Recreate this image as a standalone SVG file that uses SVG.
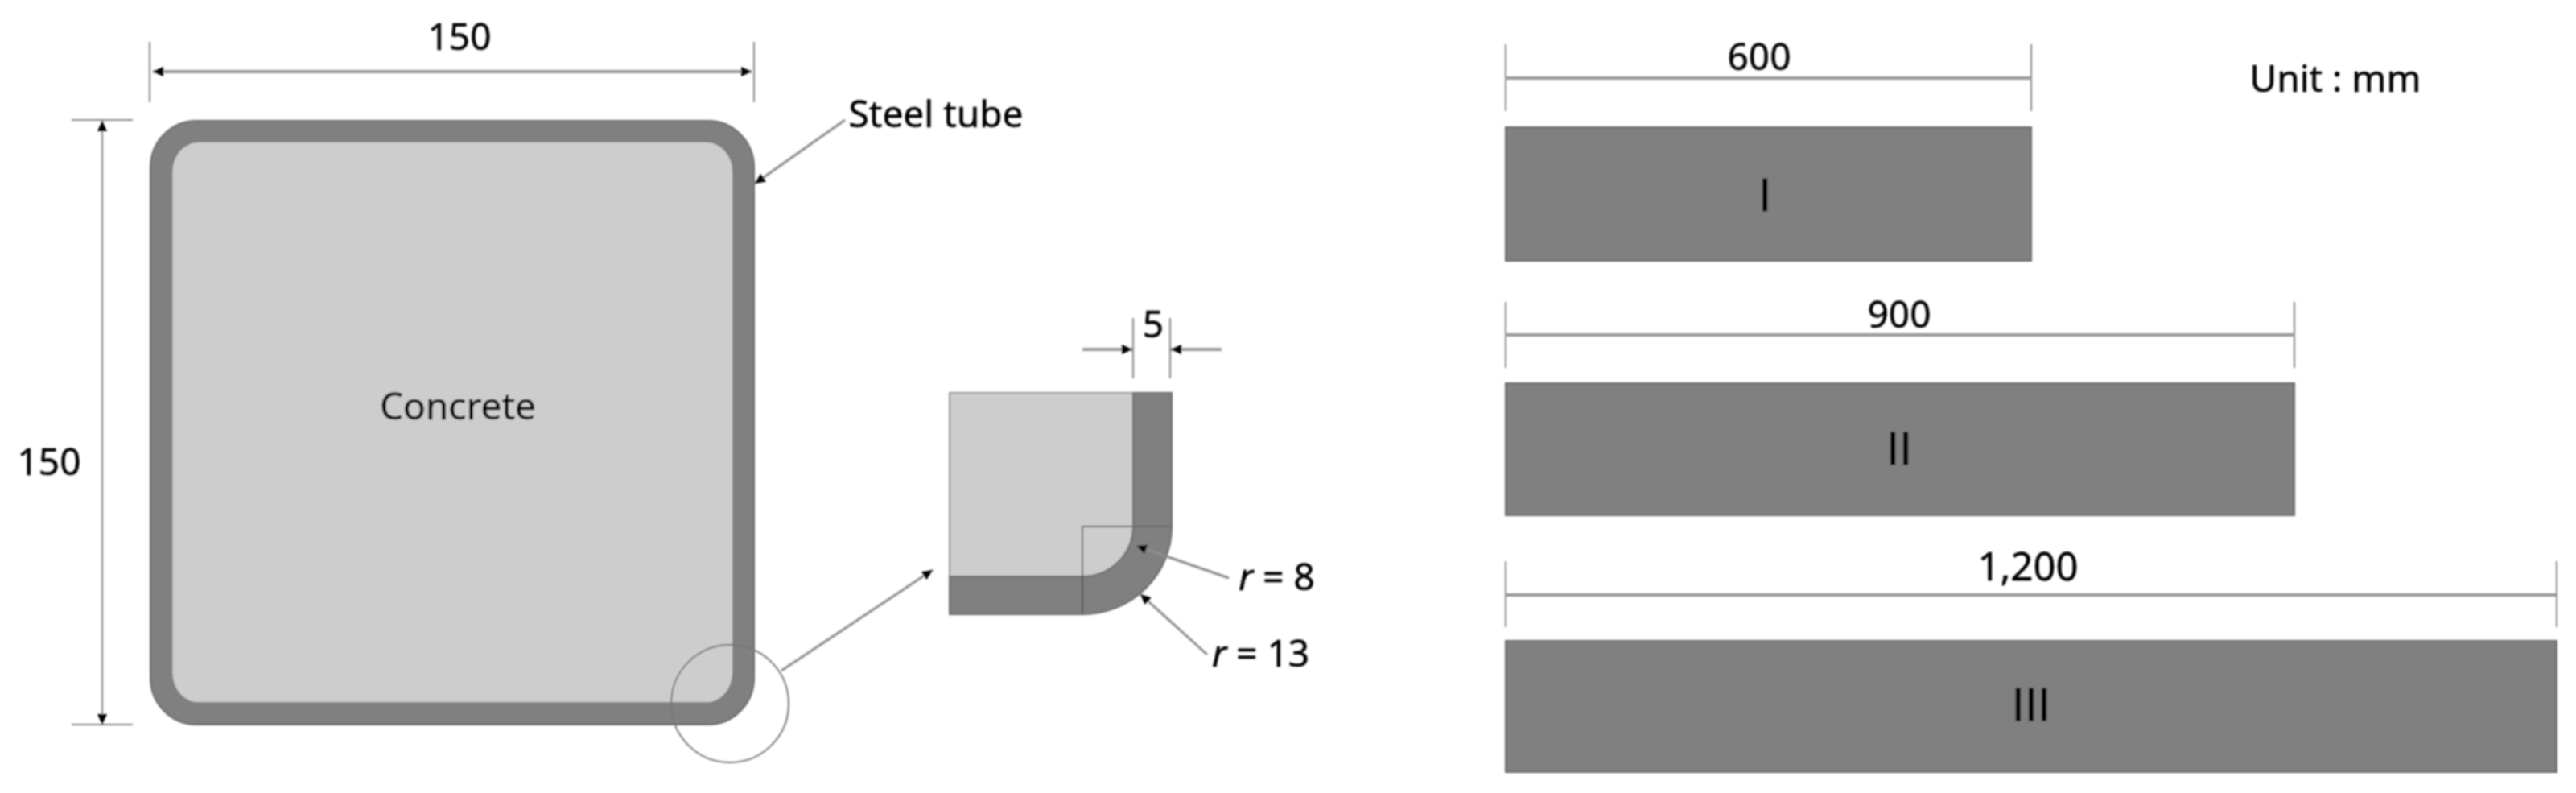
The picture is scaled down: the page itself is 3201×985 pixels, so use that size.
<svg xmlns="http://www.w3.org/2000/svg" width="3201" height="985" viewBox="0 0 3201 985">
<style>
text{font-family:"Noto Sans","Liberation Sans",sans-serif;font-size:46px;fill:#000;stroke:#000;stroke-width:.5px;text-anchor:middle}
.rn{font-family:"Liberation Sans",sans-serif;font-size:58px;fill:#000;stroke-width:.8px}
.st{text-anchor:start}
.it{font-style:italic}
.ext{stroke:#888;stroke-width:2;fill:none}
.dim{stroke:#999;stroke-width:4;fill:none}
.thin{stroke:#8c8c8c;stroke-width:3;fill:none}
.circ{stroke:#777;stroke-width:2;fill:none}
.steel{fill:#808080;stroke:#6a6a6a;stroke-width:2}
.conc{fill:#cdcdcd;stroke:#777;stroke-width:1.5}
.bar{fill:#808080;stroke:#6a6a6a;stroke-width:2}
.soft{filter:url(#soft)}
</style>
<defs>
<filter id="soft" x="0" y="0" width="3201" height="985" filterUnits="userSpaceOnUse"><feGaussianBlur stdDeviation="0.9"/></filter>
<marker id="ah" markerUnits="userSpaceOnUse" markerWidth="14" markerHeight="12" refX="13" refY="6" orient="auto-start-reverse"><path d="M0 0L13 6L0 12Z" fill="#000"/></marker>
</defs>
<rect width="3201" height="985" fill="#fff"/>
<g class="soft">
<g id="section">
<rect class="steel" x="187" y="150" width="750" height="750" rx="57" ry="58"/>
<rect class="conc" x="213.500" y="176" width="697.500" height="697" rx="33" ry="38"/>
<text x="569" y="521">Concrete</text>
</g>
<g id="detail">
<path class="conc" d="M1180 488H1408V654A63 62 0 0 1 1345 716H1180Z"/>
<path class="steel" d="M1408 488H1456V654A111 109 0 0 1 1345 763H1180V716H1345A63 62 0 0 0 1408 654Z"/>
<path d="M1345 716V654H1456" fill="none" stroke="#666" stroke-width="2"/>
<path d="M1345 716V763" stroke="#555" stroke-width="2"/>
<text class="st it" x="1539" y="733">r<tspan font-style="normal"> = 8</tspan></text>
<text class="st it" x="1506" y="828">r<tspan font-style="normal"> = 13</tspan></text>
<text x="1433" y="419">5</text>
</g>
<g id="specimen-I"><rect class="bar" x="1871" y="158" width="653" height="166"/><text class="rn" x="2193" y="262">I</text></g>
<g id="specimen-II"><rect class="bar" x="1871" y="476" width="980" height="164"/><text class="rn" x="2360" y="577">II</text></g>
<g id="specimen-III"><rect class="bar" x="1871" y="796" width="1306" height="163"/><text class="rn" x="2524" y="895">III</text></g>
<g id="connectors">
<path class="ext" d="M186 52V127M937 52V127M89 149H165M89 900H165"/>
<path class="dim" d="M190 89H934" marker-start="url(#ah)" marker-end="url(#ah)"/>
<path class="ext" d="M127 150V900" marker-start="url(#ah)" marker-end="url(#ah)"/>
<path class="thin" d="M1050 149L938 228" marker-end="url(#ah)"/>
<ellipse cx="907" cy="874" rx="73" ry="73" class="circ"/>
<path class="thin" d="M971 833L1159 708" marker-end="url(#ah)"/>
<path class="thin" d="M1527 718L1412 678" marker-end="url(#ah)"/>
<path class="thin" d="M1500 813L1417 738" marker-end="url(#ah)"/>
<path class="ext" d="M1408 395V470M1454 395V470"/>
<path class="dim" d="M1345 434H1407" marker-end="url(#ah)"/>
<path class="dim" d="M1518 434H1455" marker-end="url(#ah)"/>
<path class="ext" d="M1871 55V138M2524 55V138M1871 375V457M2851 375V457M1871 697V779M3177 697V779"/>
<path class="dim" d="M1871 97H2524M1871 416H2851M1871 739H3177"/>
</g>
<g id="labels">
<text x="571" y="62">150</text>
<text x="61" y="590">150</text>
<text x="1163" y="158">Steel tube</text>
<text x="2186" y="87">600</text>
<text x="2360" y="407">900</text>
<text x="2520" y="721" style="font-size:49px">1,200</text>
<text x="2902" y="114">Unit : mm</text>
</g>
</g>
</svg>
